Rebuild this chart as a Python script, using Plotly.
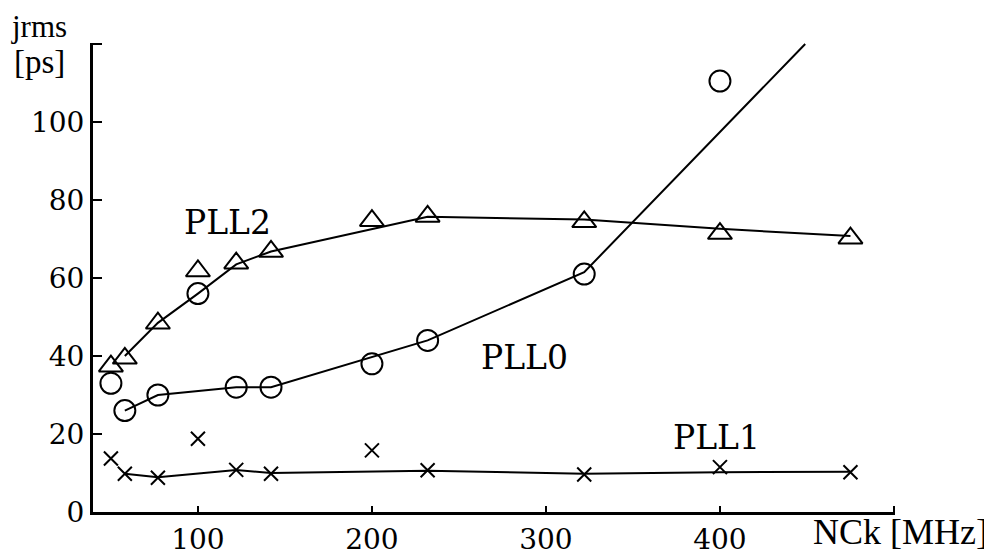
import plotly.graph_objects as go

# ---- data ----
freq = [50, 58, 77, 100, 122, 142, 200, 232, 322, 400, 475]          # NCk [MHz]
pll2 = [37.4, 39.4, 48.4, 61.8, 63.8, 66.8, 74.7, 75.8, 74.4, 71.4, 70.2]
freq0 = [50, 58, 77, 100, 122, 142, 200, 232, 322, 400]
pll0 = [33, 26, 30, 56, 32, 32, 38, 44, 61, 110.5]
pll1 = [13.7, 9.8, 8.8, 18.8, 10.8, 9.8, 15.8, 10.7, 9.6, 11.5, 10.2]

# hand-drawn trend lines
pll2_fit_x = [58, 77, 100, 122, 142, 232, 322, 400, 475]
pll2_fit_y = [40, 48.5, 56, 63.5, 66.8, 75.7, 75, 72.6, 70.8]
pll0_fit_x = [58, 77, 122, 142, 232, 322, 449]
pll0_fit_y = [26, 30, 32, 32, 44, 61.5, 120]
pll1_fit_x = [58, 77, 122, 142, 232, 322, 400, 475]
pll1_fit_y = [9.8, 8.9, 10.8, 10, 10.6, 9.8, 10.2, 10.3]

x_ticks = [100, 200, 300, 400, 500]
x_tick_text = ["100", "200", "300", "400", ""]
y_ticks = [0, 20, 40, 60, 80, 100, 120]
y_tick_text = ["0", "20", "40", "60", "80", "100", ""]

labels = {"PLL2": (117, 74.2), "PLL0": (287.4, 39.6), "PLL1": (397.8, 19.1)}

fig = go.Figure()
line_style = dict(color="black", width=2)
for fx, fy in [(pll2_fit_x, pll2_fit_y), (pll0_fit_x, pll0_fit_y), (pll1_fit_x, pll1_fit_y)]:
    fig.add_trace(go.Scatter(x=fx, y=fy, mode="lines", line=line_style,
                             showlegend=False, hoverinfo="skip", cliponaxis=True))

fig.add_trace(go.Scatter(x=freq, y=pll2, mode="markers", showlegend=False,
                         marker=dict(symbol="triangle-up-open", size=21, color="black",
                                     line=dict(color="black", width=2))))
fig.add_trace(go.Scatter(x=freq0, y=pll0, mode="markers", showlegend=False,
                         marker=dict(symbol="circle-open", size=21, color="black",
                                     line=dict(color="black", width=2))))
fig.add_trace(go.Scatter(x=freq, y=pll1, mode="markers", showlegend=False,
                         marker=dict(symbol="x-thin-open", size=14, color="black",
                                     line=dict(color="black", width=2))))

for name, (lx, ly) in labels.items():
    fig.add_annotation(x=lx, y=ly, text=name, showarrow=False, xref="x", yref="y",
                       font=dict(family="DejaVu Serif", size=33, color="black"))

fig.add_annotation(x=-0.1035, y=1.0746, xref="paper", yref="paper", text="jrms",
                   showarrow=False, xanchor="left", yanchor="top", borderpad=0,
                   font=dict(family="Liberation Serif", size=31, color="black"))
fig.add_annotation(x=-0.0998, y=1.0, xref="paper", yref="paper", text="[ps]",
                   showarrow=False, xanchor="left", yanchor="top", borderpad=0,
                   font=dict(family="Liberation Serif", size=33, color="black"))
fig.add_annotation(x=1.1185, y=-0.0426, xref="paper", yref="paper", text="NCk [MHz]",
                   showarrow=False, xanchor="right", yanchor="middle",
                   font=dict(family="Liberation Serif", size=36, color="black"))

# page body has an 8px margin, so the figure is offset by 8px
fig.update_layout(
    width=984, height=551,
    margin=dict(l=85, r=97, t=35, b=47, autoexpand=False),
    paper_bgcolor="white", plot_bgcolor="white",
    xaxis=dict(range=[39.7, 500.6], showgrid=False, zeroline=False,
               showline=True, linecolor="black", linewidth=3,
               tickmode="array", tickvals=x_ticks, ticktext=x_tick_text,
               ticks="inside", ticklen=6, tickwidth=2, tickcolor="black",
               tickfont=dict(family="DejaVu Serif", size=28, color="black")),
    yaxis=dict(range=[0, 120.26], showgrid=False, zeroline=False,
               showline=True, linecolor="black", linewidth=3,
               tickmode="array", tickvals=y_ticks, ticktext=y_tick_text,
               ticks="inside", ticklen=9, tickwidth=2, tickcolor="black",
               tickfont=dict(family="DejaVu Serif", size=28, color="black")),
)

fig.write_html("out.html")
